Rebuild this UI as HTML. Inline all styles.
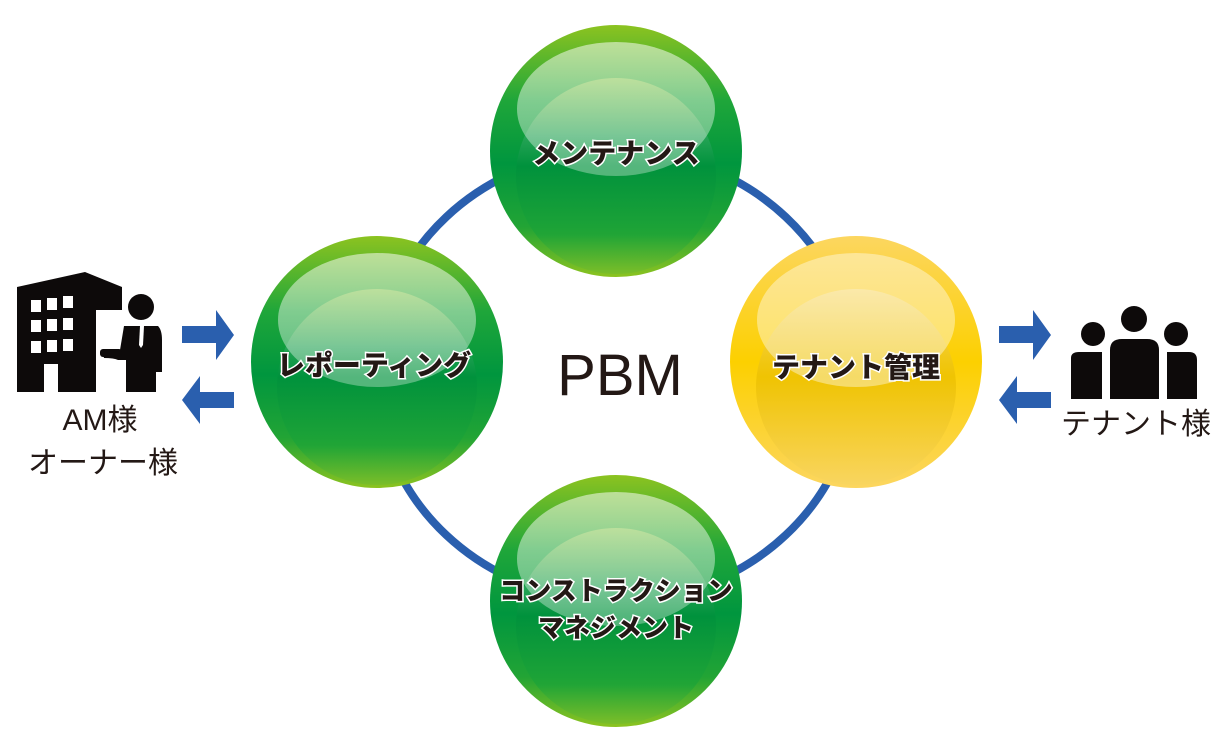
<!DOCTYPE html>
<html><head><meta charset="utf-8"><style>
html,body{margin:0;padding:0;background:#fff;}
svg{display:block;}
.lbl{font-family:"Liberation Sans","Noto Sans CJK JP",sans-serif;font-weight:900;fill:#231815;stroke:#fff;stroke-width:3;paint-order:stroke;text-anchor:middle;}
.plain{font-family:"Liberation Sans","Noto Sans CJK JP",sans-serif;fill:#231815;text-anchor:middle;}
</style></head><body>
<svg width="1216" height="748" viewBox="0 0 1216 748" xmlns="http://www.w3.org/2000/svg">
<defs>
<clipPath id="cc"><circle r="126"/></clipPath>
<linearGradient id="g" x1="0" y1="0" x2="0" y2="1">
<stop offset="0" stop-color="#8cc320"/><stop offset="0.3" stop-color="#1fa63a"/><stop offset="0.55" stop-color="#00963e"/><stop offset="0.8" stop-color="#22a435"/><stop offset="1" stop-color="#8cc320"/>
</linearGradient>
<linearGradient id="gi" x1="0" y1="0" x2="0" y2="1">
<stop offset="0" stop-color="#8cc84a"/><stop offset="0.3" stop-color="#2aa55a"/><stop offset="0.45" stop-color="#00913c"/><stop offset="0.8" stop-color="#1ea437"/><stop offset="1" stop-color="#79bd2a"/>
</linearGradient>
<linearGradient id="gh" x1="0" y1="0" x2="0" y2="1">
<stop offset="0" stop-color="#ffffff" stop-opacity="0.75"/><stop offset="1" stop-color="#ffffff" stop-opacity="0.45"/>
</linearGradient>
<linearGradient id="y" x1="0" y1="0" x2="0" y2="1">
<stop offset="0" stop-color="#fcd660"/><stop offset="0.5" stop-color="#fcd000"/><stop offset="1" stop-color="#fcd660"/>
</linearGradient>
<linearGradient id="yi" x1="0" y1="0" x2="0" y2="1">
<stop offset="0" stop-color="#f7dc80"/><stop offset="0.45" stop-color="#ecc000"/><stop offset="1" stop-color="#f8d560"/>
</linearGradient>
<g id="gs">
<circle r="126" fill="url(#g)"/>
<g clip-path="url(#cc)">
<ellipse cx="0" cy="25" rx="100" ry="98" fill="url(#gi)" opacity="0.85"/>
<ellipse cx="0" cy="-42" rx="99" ry="67" fill="url(#gh)" opacity="0.7"/>
</g>
</g>
</defs>
<ellipse cx="616" cy="376" rx="240" ry="225" fill="none" stroke="#2a5fae" stroke-width="8"/>
<use href="#gs" x="616" y="151"/>
<use href="#gs" x="377" y="362"/>
<use href="#gs" x="616" y="601"/>
<g transform="translate(856,362)">
<circle r="126" fill="url(#y)"/>
<g clip-path="url(#cc)">
<ellipse cx="0" cy="25" rx="100" ry="98" fill="url(#yi)" opacity="0.8"/>
<ellipse cx="0" cy="-42" rx="99" ry="67" fill="#fff" opacity="0.4"/>
</g>
</g>
<text class="lbl" x="616" y="163" font-size="28">メンテナンス</text>
<text class="lbl" x="374" y="375" font-size="28">レポーティング</text>
<text class="lbl" x="856" y="377" font-size="28">テナント管理</text>
<text class="lbl" x="616" y="600" font-size="26">コンストラクション</text>
<text class="lbl" x="616" y="637" font-size="26">マネジメント</text>
<text class="plain" x="620" y="395" font-size="58">PBM</text>
<g fill="#2a5fae">
<polygon points="182,326 216,326 216,310 234,335 216,360 216,343 182,343"/>
<polygon points="234,392 200,392 200,376 182,400 200,424 200,408 234,408"/>
<polygon points="999,326 1033,326 1033,310 1051,335 1033,360 1033,343 999,343"/>
<polygon points="1051,392 1017,392 1017,376 999,400 1017,424 1017,408 1051,408"/>
</g>
<g fill="#0d0a0a">
<polygon points="17,287 85,272 122,287 122,392 17,392"/>
<g fill="#fff">
<rect x="31" y="300" width="10" height="12"/><rect x="47" y="298" width="10" height="12"/><rect x="63" y="296" width="10" height="12"/>
<rect x="31" y="320" width="10" height="12"/><rect x="47" y="319" width="10" height="12"/><rect x="63" y="318" width="10" height="12"/>
<rect x="31" y="341" width="10" height="12"/><rect x="47" y="340" width="10" height="12"/><rect x="63" y="339" width="10" height="12"/>
<rect x="44" y="364" width="14" height="28"/>
<rect x="96" y="310" width="30" height="82"/>
</g>
<circle cx="141" cy="307" r="13"/>
<path d="M124,326 L158,326 Q162,330 162,340 L162,372 L156,372 L156,392 L126,392 L126,360 L118,360 Q114,358 104,358 L102,350 L120,350 Z"/>
<rect x="100" y="349" width="22" height="8" rx="3"/>
</g>
<path d="M140,326 L144,326 L143,345 L141,348 L139,345 Z" fill="#fff"/>
<text class="plain" x="100" y="430" font-size="30">AM様</text>
<text class="plain" x="103" y="473" font-size="30">オーナー様</text>
<g fill="#0d0a0a">
<circle cx="1093" cy="334" r="12"/><circle cx="1134" cy="319" r="13"/><circle cx="1176" cy="334" r="12"/>
<path d="M1071,358 Q1071,352 1079,352 L1102,352 L1102,399 L1071,399 Z"/>
<path d="M1110,350 Q1110,339 1122,339 L1147,339 Q1159,339 1159,350 L1159,399 L1110,399 Z"/>
<path d="M1167,352 L1189,352 Q1197,352 1197,360 L1197,399 L1167,399 Z"/>
</g>
<text class="plain" x="1136" y="434" font-size="30">テナント様</text>
</svg>
</body></html>
